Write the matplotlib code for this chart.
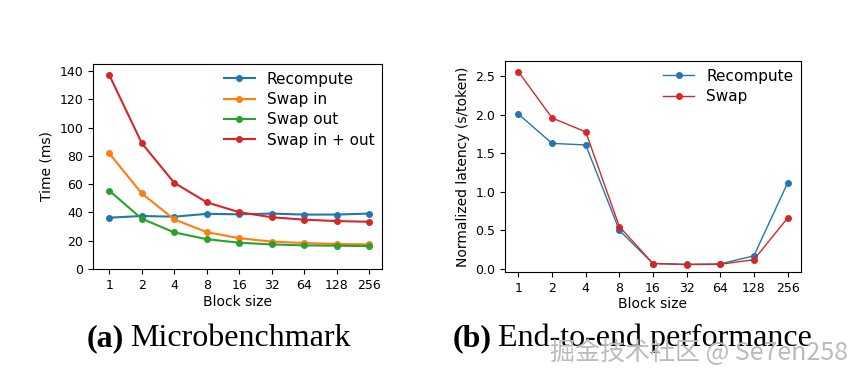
import matplotlib.pyplot as plt

block_sizes = ['1', '2', '4', '8', '16', '32', '64', '128', '256']

# (a) microbenchmark, time in ms
recompute_ms = [36.3, 37.5, 37.0, 39.0, 38.7, 39.2, 38.5, 38.5, 39.2]
swap_in_ms = [81.8, 53.5, 35.1, 26.1, 21.8, 19.4, 18.4, 17.7, 17.4]
swap_out_ms = [55.4, 35.6, 25.9, 21.1, 18.6, 17.4, 16.7, 16.5, 16.2]
swap_in_out_ms = [137.3, 89.1, 61.0, 47.2, 40.2, 36.6, 34.9, 33.9, 33.4]

# (b) end-to-end, normalized latency
recompute_lat = [2.01, 1.63, 1.61, 0.50, 0.07, 0.06, 0.065, 0.17, 1.115]
swap_lat = [2.56, 1.96, 1.78, 0.55, 0.07, 0.057, 0.06, 0.12, 0.66]

fig = plt.figure(figsize=(8.62, 3.84), dpi=100)
ax1 = fig.add_axes([93 / 862, 1 - 269 / 384, 289 / 862, 205 / 384])
ax2 = fig.add_axes([505 / 862, 1 - 272 / 384, 296 / 862, 211 / 384])

x = range(len(block_sizes))
ax1.plot(x, recompute_ms, marker='o', ms=4, lw=1.5, color='tab:blue', label='Recompute')
ax1.plot(x, swap_in_ms, marker='o', ms=4, lw=1.5, color='tab:orange', label='Swap in')
ax1.plot(x, swap_out_ms, marker='o', ms=4, lw=1.5, color='tab:green', label='Swap out')
ax1.plot(x, swap_in_out_ms, marker='o', ms=4, lw=1.5, color='tab:red', label='Swap in + out')
ax1.set_xticks(list(x))
ax1.set_xticklabels(block_sizes)
ax1.set_yticks(range(0, 141, 20))
ax1.set_ylim(0, 145)
ax1.set_xlim(-0.5, 8.4)
ax1.set_xlabel('Block size', fontsize=10, labelpad=2)
ax1.set_ylabel('Time (ms)', fontsize=10)
ax1.tick_params(labelsize=9)
ax1.legend(frameon=False, fontsize=11, loc='upper right', borderaxespad=0.1,
           handlelength=2, labelspacing=0.35)

ax2.plot(x, recompute_lat, marker='o', ms=4, lw=1, color='tab:blue', label='Recompute')
ax2.plot(x, swap_lat, marker='o', ms=4, lw=1, color='tab:red', label='Swap')
ax2.set_xticks(list(x))
ax2.set_xticklabels(block_sizes)
ax2.set_yticks([0.0, 0.5, 1.0, 1.5, 2.0, 2.5])
ax2.set_ylim(-0.04, 2.7)
ax2.set_xlim(-0.4, 8.4)
ax2.set_xlabel('Block size', fontsize=10, labelpad=2)
ax2.set_ylabel('Normalized latency (s/token)', fontsize=10)
ax2.tick_params(labelsize=9)
ax2.legend(frameon=False, fontsize=11, loc='upper right', borderaxespad=0.1,
           handlelength=2, labelspacing=0.35)

# captions: bold label followed by plain title
renderer = fig.canvas.get_renderer()
for x0, tag, title in [(87, '(a)', 'Microbenchmark'), (453, '(b)', 'End-to-end performance')]:
    t = fig.text(x0 / 862, 0.098, tag, fontsize=23, family='Liberation Serif', weight='bold')
    bb = t.get_window_extent(renderer)
    fig.text((bb.x1 + 6) / 862, 0.098, title, fontsize=23, family='Liberation Serif')

fig.text(848 / 862, 0.081, '掘金技术社区 @ Se7en258', fontsize=18, color='#bbbbbb',
         ha='right', va='center', family=['Noto Sans CJK SC', 'DejaVu Sans'])

fig.savefig('out.png', dpi=100)
